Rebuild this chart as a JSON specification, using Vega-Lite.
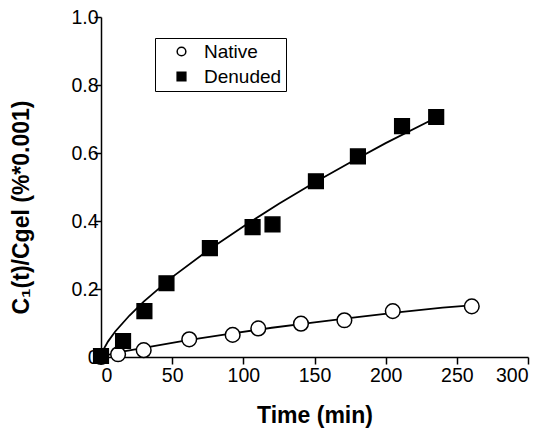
{
  "$schema": "https://vega.github.io/schema/vega-lite/v6.json",
  "width": 427,
  "height": 340,
  "autosize": {"type": "none"},
  "padding": {"left": 101, "top": 17, "right": 19, "bottom": 76},
  "background": "white",
  "config": {
    "view": {"stroke": null},
    "font": "Liberation Sans",
    "axis": {
      "grid": false,
      "domainColor": "black",
      "domainWidth": 1.5,
      "tickColor": "black",
      "tickWidth": 1.5,
      "tickSize": 7,
      "labelFontSize": 19.5,
      "labelColor": "black",
      "labelFont": "Liberation Sans",
      "titleFont": "Liberation Sans",
      "titleFontSize": 23,
      "titleFontWeight": "bold",
      "titleColor": "black"
    },
    "legend": {
      "labelFont": "Liberation Sans",
      "labelFontSize": 19,
      "labelColor": "black"
    }
  },
  "datasets": {
    "points": [
      {"series": "Native", "time": 0, "value": 0.0},
      {"series": "Native", "time": 12, "value": 0.008},
      {"series": "Native", "time": 30, "value": 0.02},
      {"series": "Native", "time": 62, "value": 0.052},
      {"series": "Native", "time": 92.5, "value": 0.065},
      {"series": "Native", "time": 110.5, "value": 0.084},
      {"series": "Native", "time": 140.5, "value": 0.098},
      {"series": "Native", "time": 171, "value": 0.108},
      {"series": "Native", "time": 205, "value": 0.135},
      {"series": "Native", "time": 260.5, "value": 0.149},
      {"series": "Denuded", "time": 0, "value": 0.003},
      {"series": "Denuded", "time": 15.5, "value": 0.047},
      {"series": "Denuded", "time": 30.5, "value": 0.135},
      {"series": "Denuded", "time": 46, "value": 0.217},
      {"series": "Denuded", "time": 76.5, "value": 0.32},
      {"series": "Denuded", "time": 106.5, "value": 0.382},
      {"series": "Denuded", "time": 120.5, "value": 0.39},
      {"series": "Denuded", "time": 151, "value": 0.517},
      {"series": "Denuded", "time": 180.5, "value": 0.59},
      {"series": "Denuded", "time": 211.5, "value": 0.679},
      {"series": "Denuded", "time": 235.5, "value": 0.706}
    ],
    "fits": [
      {"series": "Denuded", "time": 0, "value": 0.0},
      {"series": "Denuded", "time": 2, "value": 0.024},
      {"series": "Denuded", "time": 5, "value": 0.046},
      {"series": "Denuded", "time": 10, "value": 0.075},
      {"series": "Denuded", "time": 20, "value": 0.122},
      {"series": "Denuded", "time": 30, "value": 0.163},
      {"series": "Denuded", "time": 50, "value": 0.235},
      {"series": "Denuded", "time": 75, "value": 0.313},
      {"series": "Denuded", "time": 100, "value": 0.384},
      {"series": "Denuded", "time": 125, "value": 0.451},
      {"series": "Denuded", "time": 150, "value": 0.513},
      {"series": "Denuded", "time": 175, "value": 0.572},
      {"series": "Denuded", "time": 200, "value": 0.629},
      {"series": "Denuded", "time": 235, "value": 0.703},
      {"series": "Native", "time": 0, "value": 0.0},
      {"series": "Native", "time": 10, "value": 0.012},
      {"series": "Native", "time": 30, "value": 0.027},
      {"series": "Native", "time": 60, "value": 0.049},
      {"series": "Native", "time": 90, "value": 0.068},
      {"series": "Native", "time": 120, "value": 0.086},
      {"series": "Native", "time": 150, "value": 0.102},
      {"series": "Native", "time": 180, "value": 0.117},
      {"series": "Native", "time": 210, "value": 0.132},
      {"series": "Native", "time": 240, "value": 0.145},
      {"series": "Native", "time": 260, "value": 0.152}
    ]
  },
  "encoding": {
    "x": {
      "field": "time",
      "type": "quantitative",
      "scale": {"domain": [0, 300], "nice": false, "zero": false},
      "axis": {
        "values": [0, 50, 100, 150, 200, 250, 300],
        "title": "Time (min)",
        "labelPadding": 2,
        "titlePadding": 20,
        "encode": {"ticks": {"update": {"y2": {"value": -7}}}}
      }
    },
    "y": {
      "field": "value",
      "type": "quantitative",
      "scale": {"domain": [0, 1], "nice": false},
      "axis": {
        "values": [0, 0.2, 0.4, 0.6, 0.8, 1.0],
        "labelExpr": "datum.value == 0 ? '0' : format(datum.value, '.1f')",
        "labelPadding": -4,
        "title": "C₁(t)/Cgel (%*0.001)",
        "titleX": -80,
        "titleY": 190,
        "titleBaseline": "middle",
        "titleAngle": -90,
        "encode": {"ticks": {"update": {"x2": {"value": 7}}}}
      }
    }
  },
  "layer": [
    {
      "data": {"name": "fits"},
      "mark": {"type": "line", "color": "black", "strokeWidth": 1.8},
      "encoding": {"detail": {"field": "series"}}
    },
    {
      "data": {"name": "points"},
      "mark": {"type": "point", "filled": true, "strokeWidth": 1.5, "opacity": 1, "size": 215},
      "encoding": {
        "shape": {
          "field": "series", "type": "nominal",
          "scale": {"domain": ["Native", "Denuded"], "range": ["circle", "square"]},
          "legend": {
            "title": null, "orient": "none", "legendX": 54, "legendY": 21,
            "strokeColor": "black", "padding": 4,
            "symbolOffset": 13, "symbolSize": 75, "labelOffset": 13, "rowPadding": 5,
            "symbolStrokeWidth": 1.5,
            "encode": {"legend": {"update": {"strokeWidth": {"value": 1.5}}}}
          }
        },
        "fill": {
          "field": "series", "type": "nominal",
          "scale": {"domain": ["Native", "Denuded"], "range": ["white", "black"]},
          "legend": {
            "title": null, "orient": "none", "legendX": 54, "legendY": 21,
            "strokeColor": "black", "padding": 4,
            "symbolOffset": 13, "symbolSize": 75, "labelOffset": 13, "rowPadding": 5,
            "symbolStrokeWidth": 1.5,
            "encode": {"legend": {"update": {"strokeWidth": {"value": 1.5}}}}
          }
        },
        "stroke": {
          "field": "series", "type": "nominal",
          "scale": {"domain": ["Native", "Denuded"], "range": ["black", "black"]},
          "legend": {
            "title": null, "orient": "none", "legendX": 54, "legendY": 21,
            "strokeColor": "black", "padding": 4,
            "symbolOffset": 13, "symbolSize": 75, "labelOffset": 13, "rowPadding": 5,
            "symbolStrokeWidth": 1.5,
            "encode": {"legend": {"update": {"strokeWidth": {"value": 1.5}}}}
          }
        }
      }
    }
  ]
}
